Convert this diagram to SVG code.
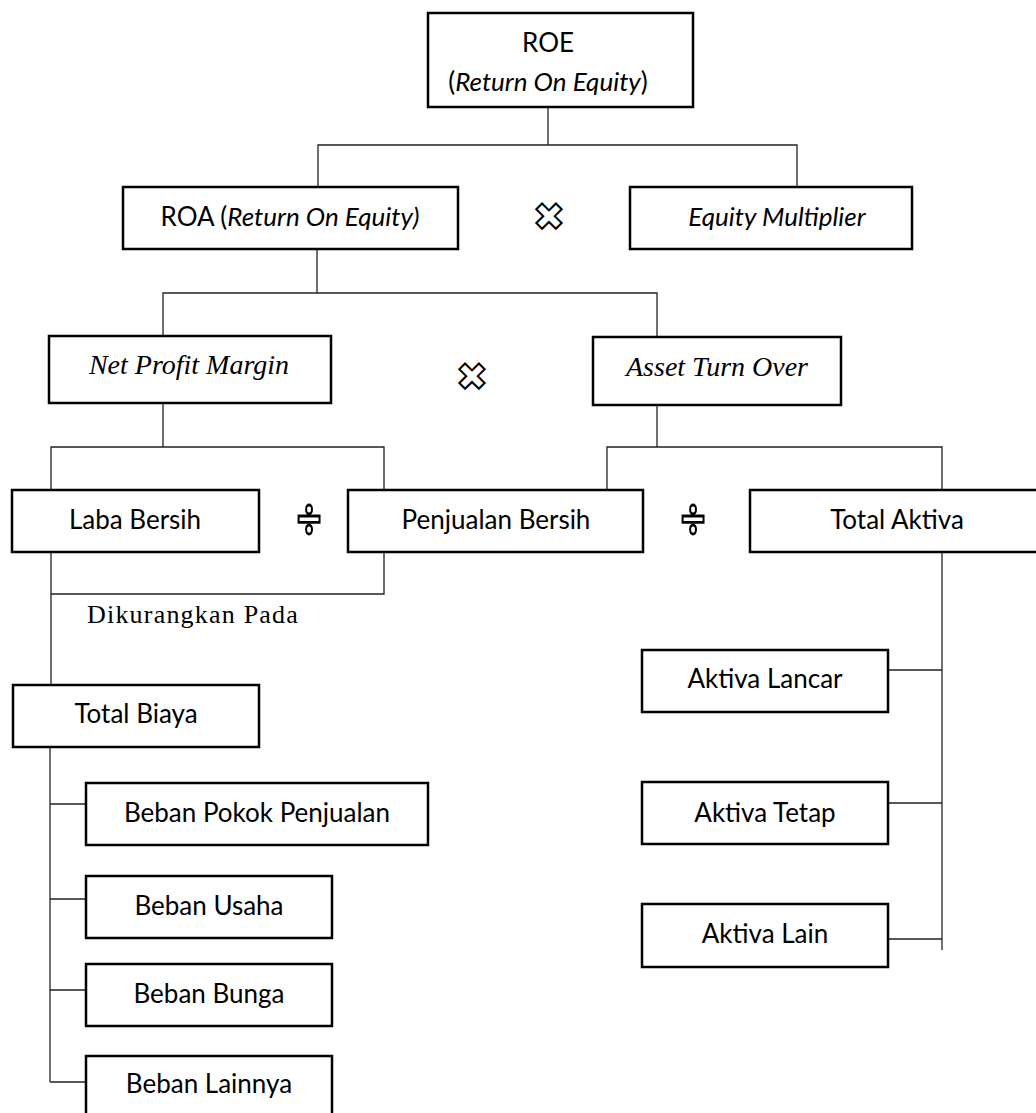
<svg xmlns="http://www.w3.org/2000/svg" width="1036" height="1113" viewBox="0 0 1036 1113">
<style>
.box{fill:#fff;stroke:#000;stroke-width:2.5}
.t{font-family:Lato,"Liberation Sans",sans-serif;font-size:26px;fill:#000;text-anchor:middle}
.s{font-family:"Liberation Serif","Times New Roman",serif;font-size:28px;font-style:italic;fill:#000;text-anchor:middle}
.i{font-style:italic}
.op{font-family:"DejaVu Sans",sans-serif;font-weight:bold;fill:#fff;stroke:#000;stroke-width:2;text-anchor:middle}
.dv{font-family:"Noto Sans",sans-serif;font-weight:bold;fill:#fff;stroke:#000;stroke-width:2.8;text-anchor:middle}
#connectors line, #connectors polyline{stroke:#222;stroke-width:1.3;fill:none}
</style>
<rect width="1036" height="1113" fill="#fff"/>
<g id="connectors">
<line x1="548" y1="107" x2="548" y2="145"/>
<polyline points="318,187 318,145 797,145 797,187"/>
<line x1="317" y1="249" x2="317" y2="293"/>
<polyline points="163,336 163,293 657,293 657,337"/>
<line x1="163" y1="403" x2="163" y2="447"/>
<polyline points="51,490 51,447 384,447 384,490"/>
<polyline points="384,552 384,594 51,594"/>
<line x1="51" y1="552" x2="51" y2="685"/>
<line x1="50" y1="747" x2="50" y2="1082"/>
<line x1="50" y1="804" x2="86" y2="804"/>
<line x1="50" y1="899" x2="86" y2="899"/>
<line x1="50" y1="990" x2="86" y2="990"/>
<line x1="50" y1="1082" x2="86" y2="1082"/>
<line x1="657" y1="405" x2="657" y2="447"/>
<polyline points="607,490 607,447 942,447 942,490"/>
<line x1="942" y1="552" x2="942" y2="950"/>
<line x1="888" y1="670" x2="942" y2="670"/>
<line x1="888" y1="803" x2="942" y2="803"/>
<line x1="888" y1="939" x2="942" y2="939"/>
</g>
<g id="roe"><rect class="box" x="428" y="13" width="265" height="94"/>
<text class="t" x="548" y="52">ROE</text>
<text class="t" x="548" y="91">(<tspan class="i">Return On Equity</tspan>)</text></g>
<g id="roa"><rect class="box" x="123" y="187" width="335" height="62"/>
<text class="t" x="290" y="226">ROA (<tspan class="i">Return On Equity)</tspan></text></g>
<g id="op1"><text class="op" x="549" y="230" font-size="38">✖</text></g>
<g id="em"><rect class="box" x="630" y="187" width="282" height="62"/>
<text class="t i" x="777" y="226">Equity Multiplier</text></g>
<g id="npm"><rect class="box" x="49" y="336" width="282" height="67"/>
<text class="s" x="189" y="374">Net Profit Margin</text></g>
<g id="op2"><text class="op" x="472" y="390" font-size="38">✖</text></g>
<g id="ato"><rect class="box" x="593" y="337" width="248" height="68"/>
<text class="s" x="717" y="376">Asset Turn Over</text></g>
<g id="laba"><rect class="box" x="12" y="490" width="247" height="62"/>
<text class="t" x="135" y="529">Laba Bersih</text></g>
<g id="op3"><text class="dv" x="309" y="540" font-size="60" transform="translate(309 0) scale(0.72 1) translate(-309 0)">÷</text></g>
<g id="penjualan"><rect class="box" x="348" y="490" width="295" height="62"/>
<text class="t" x="496" y="529">Penjualan Bersih</text></g>
<g id="op4"><text class="dv" x="693" y="540" font-size="60" transform="translate(693 0) scale(0.72 1) translate(-693 0)">÷</text></g>
<g id="totalaktiva"><rect class="box" x="750" y="490" width="292" height="62"/>
<text class="t" x="897" y="529">Total Aktiva</text></g>
<g id="dikurangkan"><text x="87" y="623" font-family="'Liberation Serif','Times New Roman',serif" font-size="26" letter-spacing="1.2" fill="#000">Dikurangkan Pada</text></g>
<g id="totalbiaya"><rect class="box" x="13" y="685" width="246" height="62"/>
<text class="t" x="136" y="723">Total Biaya</text></g>
<g id="bpp"><rect class="box" x="86" y="783" width="342" height="62"/>
<text class="t" x="257" y="822">Beban Pokok Penjualan</text></g>
<g id="busaha"><rect class="box" x="86" y="876" width="246" height="62"/>
<text class="t" x="209" y="915">Beban Usaha</text></g>
<g id="bbunga"><rect class="box" x="86" y="964" width="246" height="62"/>
<text class="t" x="209" y="1003">Beban Bunga</text></g>
<g id="blain"><rect class="box" x="86" y="1056" width="246" height="70"/>
<text class="t" x="209" y="1093">Beban Lainnya</text></g>
<g id="alancar"><rect class="box" x="642" y="650" width="246" height="62"/>
<text class="t" x="765" y="688">Aktiva Lancar</text></g>
<g id="atetap"><rect class="box" x="642" y="782" width="246" height="62"/>
<text class="t" x="765" y="822">Aktiva Tetap</text></g>
<g id="alain"><rect class="box" x="642" y="904" width="246" height="63"/>
<text class="t" x="765" y="943">Aktiva Lain</text></g>
</svg>
